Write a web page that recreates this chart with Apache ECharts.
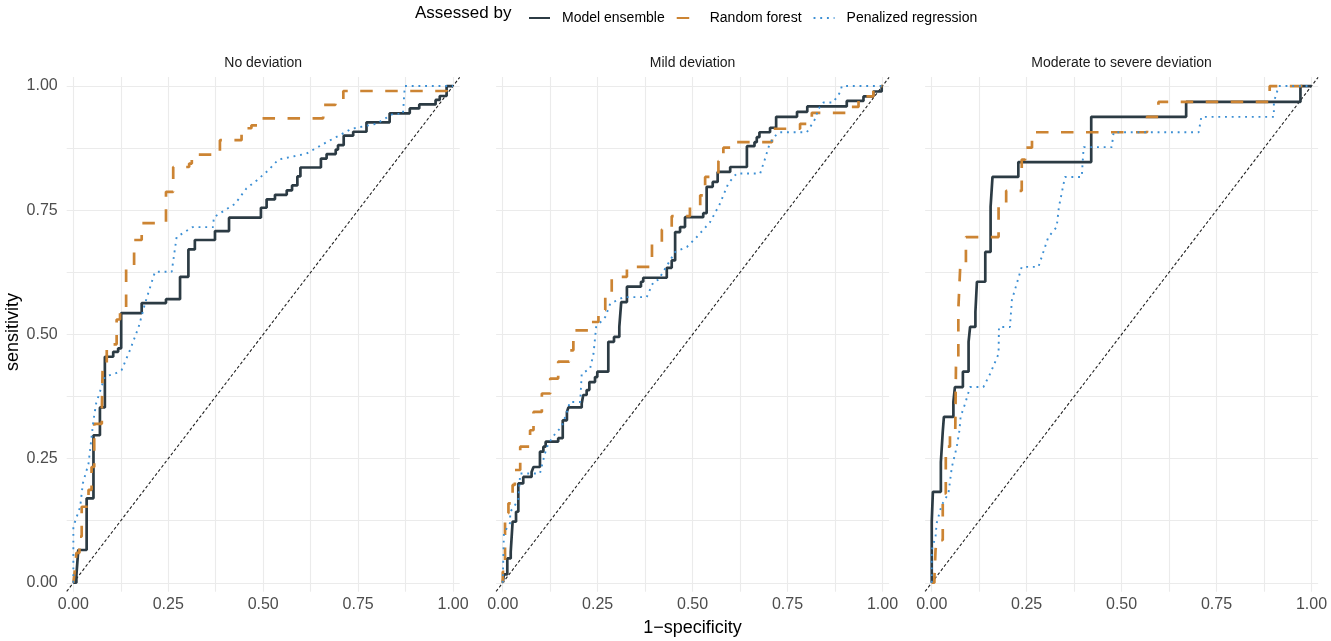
<!DOCTYPE html>
<html>
<head>
<meta charset="utf-8">
<script src="https://cdn.jsdelivr.net/npm/echarts@6/dist/echarts.min.js"></script>
<style>
html,body{margin:0;padding:0;background:#fff;}
#chart{width:1331px;height:641px;}
</style>
</head>
<body>
<div id="chart"></div>
<script>
// ---------- DATA ----------
const panels = ['No deviation', 'Mild deviation', 'Moderate to severe deviation'];
const models = ['Model ensemble', 'Random forest', 'Penalized regression'];
const tickValues = [0, 0.125, 0.25, 0.375, 0.5, 0.625, 0.75, 0.875, 1];
const labelValues = [0, 0.25, 0.5, 0.75, 1];

// Panel 1: No deviation (step points: move right to x, then up to y)
const p1EnsFpr = [0,0.008,0.013,0.035,0.053,0.070,0.083,0.105,0.118,0.126,0.180,0.244,0.281,0.303,0.320,0.373,0.410,0.494,0.509,0.531,0.562,0.576,0.590,0.598,0.652,0.667,0.691,0.697,0.712,0.737,0.772,0.833,0.886,0.911,0.954,0.965,0.983,1];
const p1EnsTpr = [0,0.015,0.066,0.170,0.297,0.353,0.455,0.465,0.472,0.543,0.563,0.571,0.616,0.671,0.690,0.708,0.735,0.755,0.772,0.781,0.790,0.800,0.818,0.836,0.854,0.863,0.872,0.881,0.900,0.908,0.927,0.945,0.955,0.963,0.972,0.980,1.0,1];
const p1RfFpr = [0,0.004,0.008,0.016,0.022,0.040,0.048,0.055,0.075,0.077,0.088,0.114,0.123,0.139,0.160,0.180,0.244,0.263,0.305,0.312,0.386,0.443,0.469,0.487,0.658,0.690,0.711,0.983,1];
const p1RfTpr = [0,0.025,0.060,0.093,0.153,0.187,0.233,0.320,0.347,0.428,0.480,0.530,0.552,0.636,0.690,0.724,0.787,0.837,0.844,0.862,0.891,0.915,0.921,0.935,0.962,0.971,0.990,1.0,1];
// polyline points
const p1PenFpr = [0,0,0.018,0.025,0.040,0.053,0.060,0.083,0.110,0.127,0.150,0.172,0.189,0.215,0.259,0.272,0.314,0.368,0.370,0.426,0.456,0.483,0.513,0.540,0.614,0.667,0.733,0.798,0.842,0.868,0.873,1];
const p1PenTpr = [0,0.113,0.153,0.200,0.240,0.327,0.361,0.415,0.421,0.428,0.470,0.515,0.563,0.626,0.626,0.696,0.716,0.716,0.736,0.763,0.794,0.810,0.830,0.852,0.864,0.887,0.914,0.924,0.944,0.944,1.0,1];

// Panel 2: Mild deviation
const p2EnsFpr = [0,0.003,0.012,0.021,0.026,0.035,0.041,0.054,0.076,0.081,0.098,0.107,0.113,0.146,0.158,0.169,0.173,0.208,0.212,0.221,0.228,0.243,0.249,0.278,0.293,0.307,0.312,0.327,0.364,0.370,0.432,0.445,0.454,0.467,0.480,0.528,0.537,0.553,0.566,0.599,0.643,0.663,0.669,0.676,0.704,0.720,0.775,0.802,0.906,0.950,0.976,0.998,1];
const p2EnsTpr = [0,0.017,0.049,0.062,0.123,0.143,0.200,0.213,0.223,0.233,0.264,0.274,0.284,0.291,0.327,0.344,0.353,0.361,0.378,0.388,0.404,0.414,0.425,0.485,0.495,0.515,0.565,0.596,0.606,0.614,0.634,0.649,0.706,0.716,0.736,0.744,0.797,0.807,0.827,0.837,0.879,0.887,0.897,0.907,0.916,0.938,0.948,0.959,0.970,0.979,0.989,1.0,1];
const p2RfFpr = [0,0,0.006,0.015,0.026,0.032,0.046,0.072,0.081,0.103,0.125,0.146,0.175,0.186,0.230,0.252,0.270,0.287,0.327,0.393,0.419,0.445,0.493,0.520,0.533,0.568,0.581,0.612,0.709,0.783,0.814,0.910,0.937,0.976,1];
const p2RfTpr = [0,0.022,0.140,0.160,0.197,0.227,0.274,0.307,0.344,0.381,0.411,0.445,0.468,0.508,0.525,0.549,0.575,0.616,0.636,0.683,0.711,0.738,0.758,0.780,0.817,0.849,0.876,0.887,0.914,0.924,0.946,0.958,0.979,1.0,1];
const p2PenFpr = [0,0.003,0.019,0.020,0.041,0.046,0.098,0.111,0.120,0.138,0.155,0.169,0.177,0.204,0.208,0.230,0.239,0.246,0.270,0.283,0.318,0.379,0.397,0.410,0.454,0.485,0.511,0.546,0.572,0.594,0.616,0.678,0.691,0.700,0.713,0.730,0.801,0.810,0.823,0.831,0.845,0.870,0.889,0.893,1];
const p2PenTpr = [0,0.100,0.120,0.143,0.166,0.220,0.220,0.260,0.280,0.300,0.314,0.344,0.364,0.364,0.421,0.431,0.461,0.515,0.535,0.562,0.575,0.575,0.606,0.610,0.666,0.676,0.696,0.726,0.763,0.804,0.824,0.824,0.854,0.877,0.897,0.907,0.907,0.918,0.934,0.954,0.967,0.967,0.988,1.0,1];

// Panel 3: Moderate to severe deviation
const p3EnsFpr = [0,0,0.003,0.024,0.029,0.032,0.057,0.061,0.082,0.097,0.101,0.115,0.119,0.141,0.155,0.160,0.228,0.420,0.670,0.971,1];
const p3EnsTpr = [0,0.123,0.183,0.243,0.304,0.334,0.364,0.394,0.425,0.485,0.515,0.545,0.606,0.666,0.757,0.817,0.847,0.938,0.968,1.0,1];
const p3RfFpr = [0,0.007,0.010,0.013,0.029,0.037,0.048,0.062,0.064,0.070,0.075,0.090,0.176,0.196,0.237,0.246,0.264,0.567,0.597,0.890,1];
const p3RfTpr = [0,0.009,0.066,0.086,0.180,0.274,0.304,0.310,0.450,0.550,0.636,0.696,0.760,0.789,0.852,0.876,0.907,0.938,0.968,1.0,1];
const p3PenFpr = [0,0,0.010,0.013,0.026,0.044,0.053,0.066,0.073,0.076,0.088,0.101,0.136,0.154,0.176,0.177,0.206,0.211,0.237,0.281,0.307,0.329,0.335,0.351,0.395,0.400,0.474,0.479,0.703,0.710,0.901,0.901,0.914,1];
const p3PenTpr = [0,0.066,0.093,0.120,0.156,0.180,0.233,0.274,0.307,0.334,0.361,0.394,0.394,0.421,0.461,0.515,0.515,0.569,0.636,0.636,0.696,0.716,0.757,0.817,0.817,0.877,0.877,0.907,0.907,0.938,0.938,0.968,1.0,1];

const curves = [
  [[p1EnsFpr,p1EnsTpr],[p1RfFpr,p1RfTpr],[p1PenFpr,p1PenTpr]],
  [[p2EnsFpr,p2EnsTpr],[p2RfFpr,p2RfTpr],[p2PenFpr,p2PenTpr]],
  [[p3EnsFpr,p3EnsTpr],[p3RfFpr,p3RfTpr],[p3PenFpr,p3PenTpr]]
];

// ---------- LAYOUT / STYLE ----------
const FONT = '"Liberation Sans", Arial, Helvetica, sans-serif';
const xExp = 0.0175, yExp = 0.018;
const gridLefts = [66.7, 496.1, 925.1];
const gridW = 393.0, gridTop = 77.1, gridH = 514.6;
const colors = ['#2C3B44', '#CC8433', '#3C8FD4'];
const lineStyles = [
  {width: 2.7, type: 'solid'},
  {width: 2.7, type: [12.5, 12.5]},
  {width: 1.9, type: [1.9, 4.8], cap: 'butt'}
];
const steps = ['end', 'end', false];

const zip = (a, b) => a.map((v, i) => [v, b[i]]);

const grids = [], xAxes = [], yAxes = [], series = [], graphics = [];
panels.forEach((name, p) => {
  grids.push({left: gridLefts[p], top: gridTop, width: gridW, height: gridH, containLabel: false});
  xAxes.push({
    type: 'value', gridIndex: p, min: -xExp, max: 1 + xExp,
    axisLine: {show: false},
    axisTick: {show: false, customValues: tickValues},
    axisLabel: {customValues: labelValues, formatter: v => v.toFixed(2), color: '#4D4D4D', fontSize: 16, fontFamily: FONT, margin: 5},
    splitLine: {show: true, lineStyle: {color: '#EBEBEB', width: 1.1}}
  });
  yAxes.push({
    type: 'value', gridIndex: p, min: -yExp, max: 1 + yExp,
    axisLine: {show: false},
    axisTick: {show: false, customValues: tickValues},
    axisLabel: {show: p === 0, customValues: labelValues, formatter: v => v.toFixed(2), color: '#4D4D4D', fontSize: 16, fontFamily: FONT, margin: 9},
    splitLine: {show: true, lineStyle: {color: '#EBEBEB', width: 1.1}}
  });
  // diagonal reference
  series.push({
    type: 'line', xAxisIndex: p, yAxisIndex: p, symbol: 'none', silent: true,
    data: [[-xExp, -xExp], [1 + xExp, 1 + xExp]],
    lineStyle: {color: '#222', width: 1.1, type: [3, 2.2]}, z: 1
  });
  models.forEach((m, k) => {
    const [fx, ty] = curves[p][k];
    series.push({
      type: 'line', name: m, xAxisIndex: p, yAxisIndex: p, symbol: 'none',
      step: steps[k], data: zip(fx, ty), color: colors[k],
      lineStyle: Object.assign({color: colors[k]}, lineStyles[k]),
      z: 2 + k, animation: false
    });
  });
  graphics.push({
    type: 'text', x: gridLefts[p] + gridW / 2, y: 63,
    style: {text: name, align: 'center', verticalAlign: 'middle', font: '14px ' + FONT, fill: '#1A1A1A'}
  });
});

graphics.push({
  type: 'text', x: 692.5, y: 628,
  style: {text: '1\u2212specificity', align: 'center', verticalAlign: 'middle', font: '18px ' + FONT, fill: '#000'}
});
graphics.push({
  type: 'text', x: 13, y: 332, rotation: Math.PI / 2,
  style: {text: 'sensitivity', align: 'center', verticalAlign: 'middle', font: '18px ' + FONT, fill: '#000'}
});
graphics.push({
  type: 'text', x: 415, y: 13,
  style: {text: 'Assessed by', align: 'left', verticalAlign: 'middle', font: '17px ' + FONT, fill: '#000'}
});

const chart = echarts.init(document.getElementById('chart'), null, {renderer: 'canvas'});
chart.setOption({
  animation: false,
  backgroundColor: '#fff',
  grid: grids,
  xAxis: xAxes,
  yAxis: yAxes,
  legend: {
    data: models, left: 523, top: 6, itemWidth: 21, itemHeight: 14, itemGap: 11,
    itemStyle: {opacity: 0},
    textStyle: {fontSize: 14, fontFamily: FONT, color: '#000', padding: [0, 0, 0, 7]}
  },
  graphic: graphics,
  series: series
});
</script>
</body>
</html>
